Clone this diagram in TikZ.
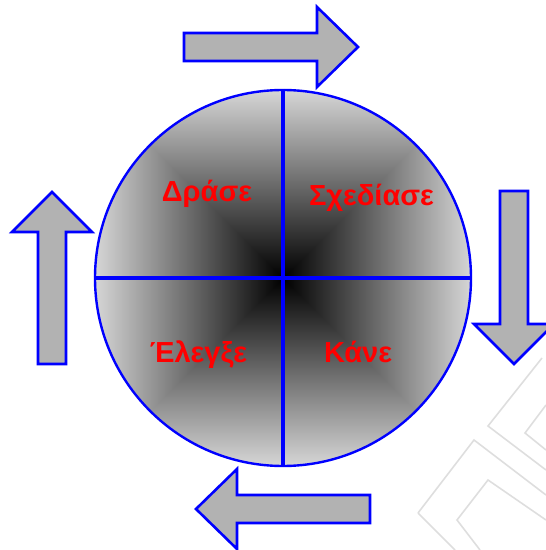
\documentclass[tikz,border=0pt]{standalone}
\usepackage{fontspec}
\newfontfamily\lblfont{LiberationSans-Bold}[Extension=.ttf]
\pgfdeclarefunctionalshading{pyramid}{\pgfpoint{-50bp}{-50bp}}{\pgfpoint{50bp}{50bp}}{}{
  abs exch abs 2 copy lt {exch} if pop
  25 div 0.84 mul dup 1 gt {pop 1} if dup dup
}
\begin{document}
\begin{tikzpicture}[x=1pt,y=1pt,
  blockarrow/.style={draw=blue,line width=2.6pt,fill=black!30,line join=miter},
  quarterlabel/.style={text=red,font=\lblfont\fontsize{29}{34}\selectfont,anchor=base,inner sep=0pt},
  crossline/.style={draw=blue,line width=3.6pt},
  wmark/.style={draw=black!13,line width=1.6pt}]
\useasboundingbox (0,0) rectangle (546,550);
% watermark
\draw[wmark] (418,37)--(474,110)--(546,55);
\draw[wmark] (418,37)--(455,0);
\draw[wmark] (542,192)--(488,124)--(546,80);
\draw[wmark] (546,145)--(525,117)--(546,100);
\draw[wmark] (480,0)--(457,30)--(488,70)--(546,30);
% circle with pyramid shading
\coordinate (c) at (283,272);
\shade[shading=pyramid] (c) circle (188);
\node[circle,draw=blue,line width=2.4pt,minimum size=376pt,inner sep=0pt] (disc) at (c) {};
\draw[crossline] (disc.north) -- (disc.south);
\draw[crossline] (disc.west) -- (disc.east);
% labels
\node[quarterlabel] (act) at (207,348) {Δράσε};
\node[quarterlabel] (plan) at (371.5,344) {Σχεδίασε};
\node[quarterlabel] (check) at (198.5,187) {Έλεγξε};
\node[quarterlabel] (do) at (358,187) {Κάνε};
% arrows
\draw[blockarrow] (184,517)--(317,517)--(317,543)--(358,503)--(317,463)--(317,489)--(184,489)--cycle;
\draw[blockarrow] (500,359)--(528,359)--(528,226)--(554,226)--(514,186)--(474,226)--(500,226)--cycle;
\draw[blockarrow] (370,55)--(237,55)--(237,81)--(196,41)--(237,1)--(237,27)--(370,27)--cycle;
\draw[blockarrow] (38,186)--(38,318)--(12,318)--(52,358)--(92,318)--(66,318)--(66,186)--cycle;
\end{tikzpicture}
\end{document}
